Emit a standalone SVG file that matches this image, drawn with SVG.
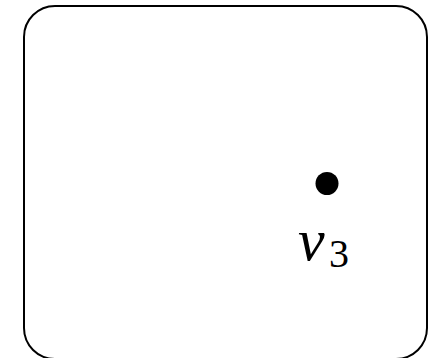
<svg xmlns="http://www.w3.org/2000/svg" width="430" height="358" viewBox="0 0 430 358">
<style>
.frame{fill:none;stroke:#000;stroke-width:2}
.lbl{font-family:"Liberation Serif","DejaVu Serif",serif;fill:#000}
</style>
<rect width="430" height="358" fill="#fff"/>
<g id="frame"><rect class="frame" x="24" y="6" width="403" height="353" rx="31" ry="31"/></g>
<g id="v3">
<circle cx="327" cy="183.5" r="11.5" fill="#000"/>
<text class="lbl" x="298" y="260" font-size="60" font-style="italic">v</text>
<text class="lbl" x="329" y="267" font-size="40">3</text>
</g>
<g id="connectors"></g>
</svg>
